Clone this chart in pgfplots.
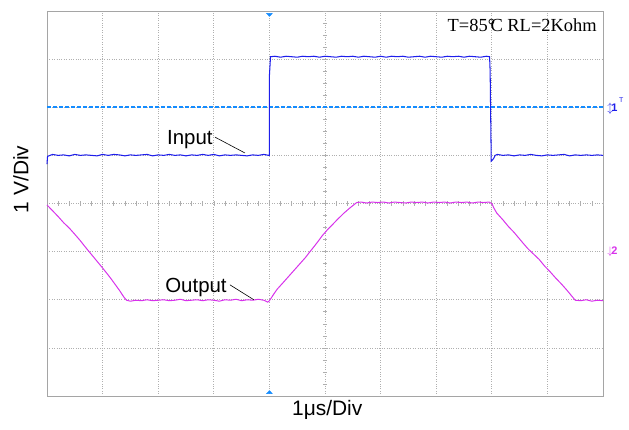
\documentclass[border=0pt]{standalone}
\usepackage{pgfplots}
\pgfplotsset{compat=1.18}
\usepackage{fontspec}
\setmainfont{Liberation Sans}
\newfontfamily\timesf{Liberation Serif}
\definecolor{inblue}{RGB}{30,30,235}
\definecolor{outmag}{RGB}{215,50,235}
\definecolor{trigc}{RGB}{20,140,255}
\definecolor{gridc}{RGB}{175,175,175}
\definecolor{framec}{RGB}{165,165,165}
\begin{document}
\begin{tikzpicture}
\begin{axis}[name=ax, scale only axis, width=556bp, height=385bp,
  xmin=0, xmax=10, ymin=0, ymax=8,
  xtick={0,...,10}, ytick={0,...,8},
  xticklabels={}, yticklabels={},
  major tick length=0pt,
  grid=major, major grid style={gridc, dotted, line width=0.7pt},
  axis line style={framec, line width=0.9pt},
  clip=false]
% center axis minor ticks
\pgfplotsinvokeforeach{0.2,0.4,...,9.9}{\draw[gridc, line width=0.6pt] (axis cs:#1,3.955) -- (axis cs:#1,4.045);}
\pgfplotsinvokeforeach{0.25,0.5,...,7.9}{\draw[gridc, line width=0.6pt] (axis cs:4.96,#1) -- (axis cs:5.04,#1);}
% trigger level
\addplot[color=trigc, line width=1.6pt, dash pattern=on 4bp off 2bp] coordinates {(0,6) (10,6)};
% input
\addplot[color=inblue, line width=1.05pt] coordinates {
(0,4.82)(0.01,4.98)(0.1,5.02)(0.2,5.0)(0.3,5.01)(0.4,4.99)(0.5,5.02)(0.6,5.0)(0.7,5.01)(0.8,5.0)(0.9,4.99)
(1.0,5.02)(1.1,5.0)(1.2,5.02)(1.3,5.01)(1.4,4.99)(1.5,5.01)(1.6,5.0)(1.7,5.01)(1.8,5.02)(1.9,4.99)
(2.0,5.01)(2.1,5.0)(2.2,5.02)(2.3,5.0)(2.4,5.01)(2.5,4.99)(2.6,5.01)(2.7,5.0)(2.8,5.02)(2.9,5.0)
(3.0,5.02)(3.1,4.99)(3.2,5.01)(3.3,5.0)(3.4,5.01)(3.5,5.0)(3.6,4.99)(3.7,5.01)(3.8,5.0)(3.9,5.02)(3.99,5.0)
(4.0,5.0)(4.0,6.65)(4.02,7.05)
(4.1,7.06)(4.2,7.04)(4.3,7.06)(4.4,7.05)(4.5,7.04)(4.6,7.06)(4.7,7.05)(4.8,7.06)(4.9,7.04)
(5.0,7.06)(5.1,7.05)(5.2,7.04)(5.3,7.06)(5.4,7.05)(5.5,7.06)(5.6,7.04)(5.7,7.06)(5.8,7.05)(5.9,7.04)
(6.0,7.06)(6.1,7.04)(6.2,7.06)(6.3,7.05)(6.4,7.06)(6.5,7.04)(6.6,7.05)(6.7,7.06)(6.8,7.04)(6.9,7.06)
(7.0,7.05)(7.1,7.04)(7.2,7.06)(7.3,7.05)(7.4,7.06)(7.5,7.04)(7.6,7.06)(7.7,7.05)(7.8,7.04)(7.9,7.06)(7.96,7.05)
(7.97,6.75)(7.99,4.88)(8.03,4.93)(8.06,5.0)
(8.1,5.02)(8.2,5.0)(8.3,5.01)(8.4,4.99)(8.5,5.01)(8.6,5.0)(8.7,5.02)(8.8,5.0)(8.9,4.99)
(9.0,5.01)(9.1,5.0)(9.2,5.01)(9.3,5.02)(9.4,4.99)(9.5,5.01)(9.6,5.0)(9.7,5.01)(9.8,5.0)(9.9,5.01)(10,5.0)};
% output
\addplot[color=outmag, line width=1.0pt] coordinates {
(0,3.97)(0.1,3.85)(0.2,3.73)(0.3,3.6)(0.4,3.49)(0.5,3.36)(0.59,3.24)(0.7,3.08)(0.8,2.94)(0.9,2.8)
(1.0,2.66)(1.13,2.47)(1.2,2.36)(1.3,2.2)(1.38,2.06)(1.43,1.99)(1.5,1.97)(1.6,1.99)(1.7,1.98)(1.8,2.0)(1.9,1.98)
(2.0,1.99)(2.1,2.0)(2.2,1.98)(2.3,1.99)(2.4,2.01)(2.5,1.98)(2.6,1.99)(2.7,2.0)(2.8,1.98)(2.9,2.0)
(3.0,1.99)(3.1,1.97)(3.2,2.0)(3.3,1.99)(3.4,2.01)(3.5,1.98)(3.6,2.0)(3.7,1.99)(3.8,2.01)(3.9,1.99)(3.97,1.95)
(4.0,1.98)(4.08,2.12)(4.14,2.22)(4.25,2.36)(4.35,2.49)(4.45,2.62)(4.55,2.75)(4.65,2.88)(4.73,3.0)(4.8,3.1)
(4.88,3.22)(4.95,3.33)(5.04,3.45)(5.1,3.52)(5.2,3.64)(5.33,3.79)(5.45,3.91)(5.57,4.02)
(5.65,4.03)(5.75,4.01)(5.85,4.03)(5.95,4.02)(6.05,4.03)(6.15,4.01)(6.25,4.03)(6.35,4.02)(6.45,4.01)
(6.55,4.03)(6.65,4.02)(6.75,4.03)(6.85,4.01)(6.95,4.03)(7.05,4.02)(7.15,4.03)(7.25,4.01)(7.35,4.03)
(7.45,4.02)(7.55,4.03)(7.65,4.01)(7.75,4.03)(7.85,4.02)(7.95,4.03)(8.0,4.0)
(8.04,3.9)(8.09,3.8)(8.2,3.66)(8.3,3.52)(8.4,3.4)(8.56,3.18)(8.65,3.06)(8.75,2.95)(8.85,2.84)(8.95,2.7)
(9.05,2.58)(9.15,2.45)(9.25,2.33)(9.35,2.2)(9.45,2.06)(9.5,1.99)(9.6,1.98)(9.7,2.0)(9.8,1.97)(9.9,1.99)(10,1.98)};
% trigger position markers
\addplot[only marks, mark=triangle*, mark size=3.4pt, color=trigc, mark options={rotate=180, yscale=0.6}] coordinates {(4,7.93)};
\addplot[only marks, mark=triangle*, mark size=3.4pt, color=trigc, mark options={yscale=0.6}] coordinates {(4,0.07)};
% annotations
\node[font=\fontsize{20.5}{22}\selectfont, inner sep=0pt] at (axis cs:2.57,5.32) {Input};
\draw[black, line width=0.6pt] (axis cs:3.02,5.38) -- (axis cs:3.56,5.05);
\node[font=\fontsize{20.5}{22}\selectfont, inner sep=0pt] at (axis cs:2.68,2.26) {Output};
\draw[black, line width=0.6pt] (axis cs:3.29,2.31) -- (axis cs:3.72,2.0);
\node[font=\timesf\fontsize{18.5}{20}\selectfont, inner sep=0pt, anchor=east] at (axis cs:9.89,7.71) {T=85°\kern-0.25em C RL=2Kohm};
% axis labels
\node[font=\fontsize{21}{24}\selectfont, inner sep=0pt] at (axis cs:5.04,-0.29) {1μs/Div};
\node[font=\fontsize{21}{24}\selectfont, inner sep=0pt, rotate=90] at (axis cs:-0.47,4.5) {1 V/Div};
% channel markers
\node[color=inblue, font=\fontsize{11}{11}\selectfont\bfseries, inner sep=0pt] at (axis cs:10.17,5.96) {$\updownarrow$\kern-1.5pt1};
\node[color=inblue, font=\fontsize{7}{7}\selectfont, inner sep=0pt] at (axis cs:10.33,6.14) {T};
\node[color=outmag, font=\fontsize{11}{11}\selectfont\bfseries, inner sep=0pt] at (axis cs:10.17,3.0) {$\downarrow$\kern-1.5pt2};
\end{axis}
\path (ax.south west) ++(-47bp,-34bp) rectangle ++(629bp,430bp);
\end{tikzpicture}
\end{document}
